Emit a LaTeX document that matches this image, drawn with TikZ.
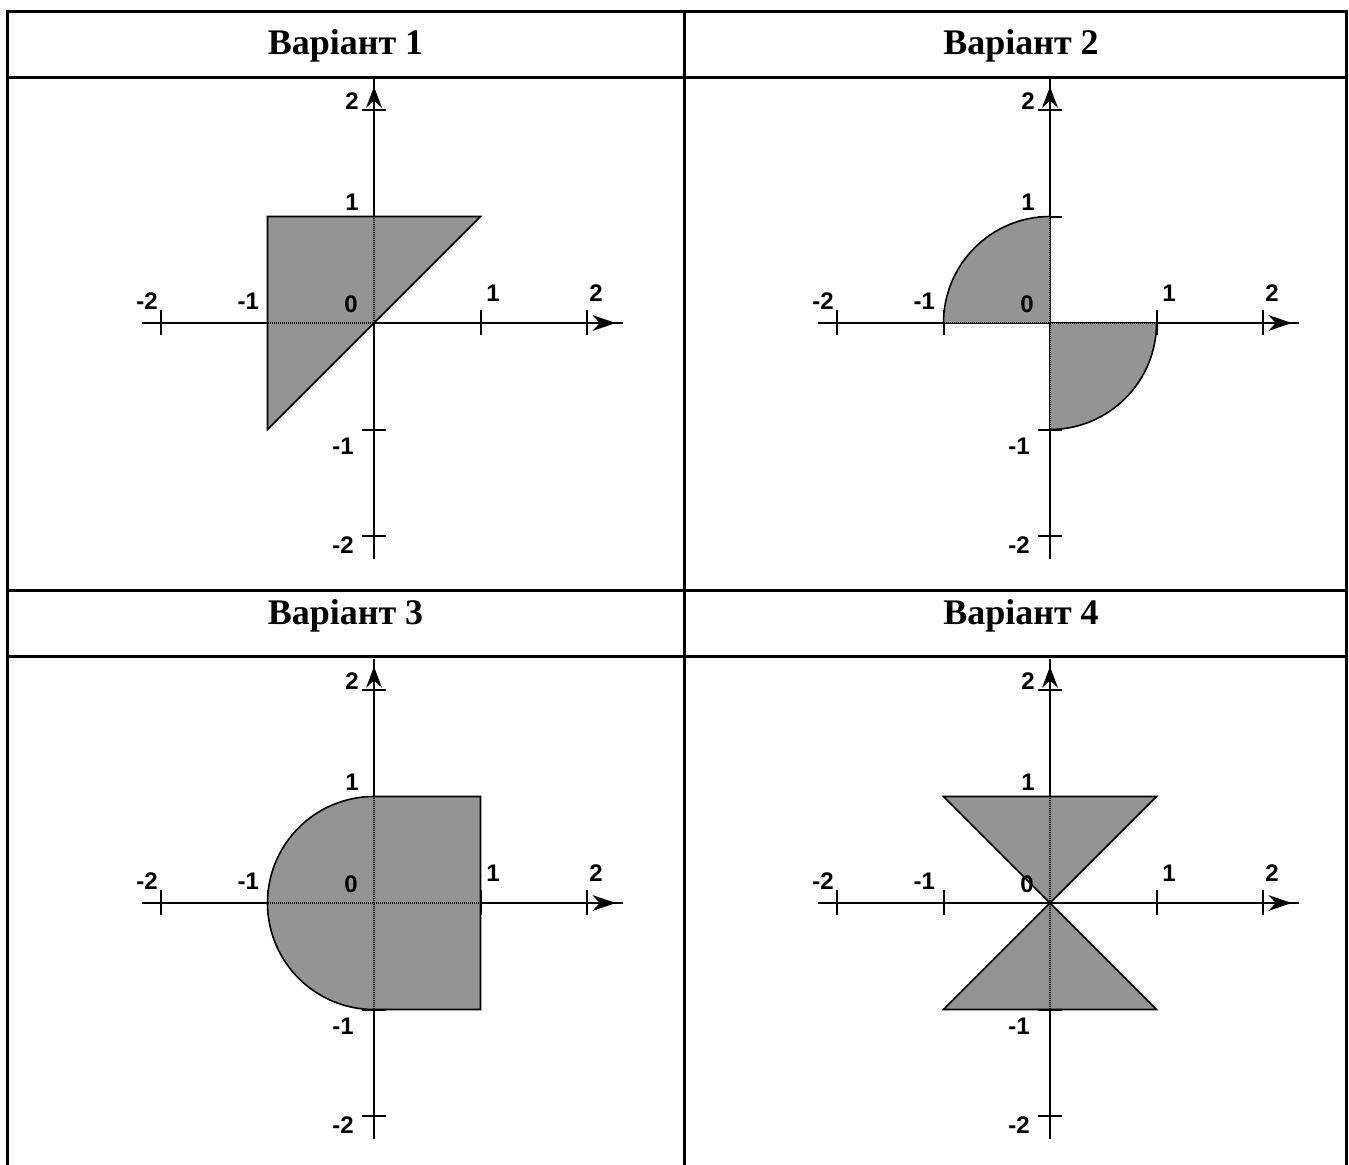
\documentclass[tikz,border=0pt]{standalone}
\usepackage{fontspec}
\setmainfont{Liberation Serif}
\newfontfamily\lblfont{Liberation Sans}
\tikzset{
  tbl/.style={line width=1.5pt, line cap=rect},
  axis/.style={line width=1pt},
  tickmark/.style={line width=1pt},
  region/.style={fill=black!42},
  edge/.style={line width=0.8pt},
  inaxis/.style={line width=1pt, dash pattern=on 0.5pt off 0.5pt},
  lbl/.style={font=\lblfont\bfseries\fontsize{12}{12}\selectfont, inner sep=0pt},
  hdr/.style={font=\bfseries\fontsize{18}{18}\selectfont, inner sep=0pt},
}
\newcommand{\axesbase}{%
  \draw[axis] (-2.18,0) -- (2.34,0);
  \draw[axis] (0,-2.22) -- (0,2.29);
  \foreach \t in {-2,-1,1,2} {
    \draw[tickmark] (\t,-0.113) -- (\t,0.125);
    \draw[tickmark] (-0.113,\t) -- (0.113,\t);
  }
  \fill (2.27,0) -- (2.05,0.075) -- (2.12,0) -- (2.05,-0.075) -- cycle;
  \fill (0,2.22) -- (-0.075,2.02) -- (0,2.09) -- (0.075,2.02) -- cycle;
}
\newcommand{\axlabels}{%
  \node[lbl] (ly2) at (-0.207,2.085) {2};
  \node[lbl] (ly1) at (-0.207,1.136) {1};
  \node[lbl] (lxm2) at (-2.13,0.207) {-2};
  \node[lbl] (lxm1) at (-1.18,0.207) {-1};
  \node[lbl] (l0) at (-0.216,0.178) {0};
  \node[lbl] (lx1) at (1.117,0.28) {1};
  \node[lbl] (lx2) at (2.085,0.28) {2};
  \node[lbl] (lym1) at (-0.29,-1.155) {-1};
  \node[lbl] (lym2) at (-0.29,-2.085) {-2};
}
\newcommand{\inneraxes}{%
  \draw[inaxis] (-2.18,0) -- (2.34,0);
  \draw[inaxis] (0,-2.22) -- (0,2.29);
}
\begin{document}
\begin{tikzpicture}[x=0.5pt,y=-0.5pt]
\useasboundingbox (0,0) rectangle (1349,1164);
\fill[white] (0,0) rectangle (1349,1164);
% table
\draw[tbl] (7,1164) -- (7,11) -- (1346,11) -- (1346,1164);
\draw[tbl] (684,11) -- (684,1164);
\draw[tbl] (7,77) -- (1346,77);
\draw[tbl] (7,590) -- (1346,590);
\draw[tbl] (7,656) -- (1346,656);
\node[hdr] (h1) at (345.5,46) {Варіант 1};
\node[hdr] (h2) at (1021,46) {Варіант 2};
\node[hdr] (h3) at (345.5,616) {Варіант 3};
\node[hdr] (h4) at (1021,616) {Варіант 4};
% panel 1
\begin{scope}[xshift=187pt, yshift=-161.5pt, x=53.25pt, y=53.25pt]
  \axesbase
  \fill[region] (-1,-1) -- (-1,1) -- (1,1) -- (0,0) -- cycle;
  \begin{scope}\clip (-1,-1) -- (-1,1) -- (1,1) -- (0,0) -- cycle; \inneraxes \end{scope}
  \draw[edge] (-1,-1) -- (-1,1) -- (1,1) -- (0,0) -- cycle;
  \axlabels
\end{scope}
% panel 2
\begin{scope}[xshift=525pt, yshift=-161.5pt, x=53.25pt, y=53.25pt]
  \axesbase
  \fill[region] (0,0) -- (-1,0) arc[start angle=180, end angle=90, radius=1] -- cycle;
  \fill[region] (0,0) -- (1,0) arc[start angle=0, end angle=-90, radius=1] -- cycle;
  \begin{scope}\clip (0,0) -- (-1,0) arc[start angle=180, end angle=90, radius=1] -- cycle; \inneraxes \end{scope}
  \begin{scope}\clip (0,0) -- (1,0) arc[start angle=0, end angle=-90, radius=1] -- cycle; \inneraxes \end{scope}
  \draw[edge] (-1,0) arc[start angle=180, end angle=90, radius=1];
  \draw[edge] (1,0) arc[start angle=0, end angle=-90, radius=1];
  \axlabels
\end{scope}
% panel 3
\begin{scope}[xshift=187pt, yshift=-451.5pt, x=53.25pt, y=53.25pt]
  \axesbase
  \fill[region] (0,1) arc[start angle=90, end angle=270, radius=1] -- (1,-1) -- (1,1) -- cycle;
  \begin{scope}\clip (0,1) arc[start angle=90, end angle=270, radius=1] -- (1,-1) -- (1,1) -- cycle; \inneraxes \end{scope}
  \draw[edge] (0,1) arc[start angle=90, end angle=270, radius=1] -- (1,-1) -- (1,1) -- cycle;
  \axlabels
\end{scope}
% panel 4
\begin{scope}[xshift=525pt, yshift=-451.5pt, x=53.25pt, y=53.25pt]
  \axesbase
  \fill[region] (-1,1) -- (1,1) -- (0,0) -- cycle;
  \fill[region] (-1,-1) -- (1,-1) -- (0,0) -- cycle;
  \begin{scope}\clip (-1,1) -- (1,1) -- (0,0) -- cycle (-1,-1) -- (1,-1) -- (0,0) -- cycle; \inneraxes \end{scope}
  \draw[edge] (-1,1) -- (1,1) -- (0,0) -- cycle;
  \draw[edge] (-1,-1) -- (1,-1) -- (0,0) -- cycle;
  \axlabels
\end{scope}
\end{tikzpicture}
\end{document}
